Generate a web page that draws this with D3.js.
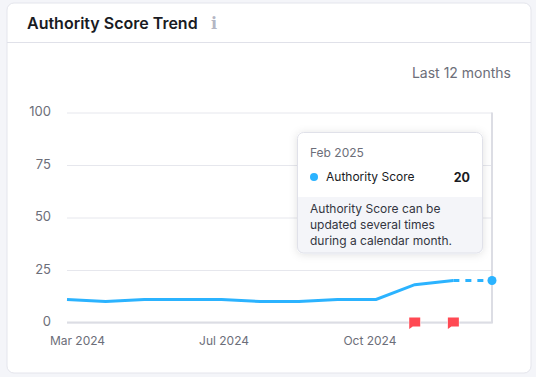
<!DOCTYPE html>
<html>
<head>
<meta charset="utf-8">
<script src="https://cdn.jsdelivr.net/npm/d3@7"></script>
<style>
  html, body {margin: 0; padding: 0; background: #f4f5f9; overflow: hidden;}
  svg {display: block; font-family: Inter, sans-serif;}
</style>
</head>
<body>
<div id="chart"></div>
<script>
const months = ["Mar 2024","Apr 2024","May 2024","Jun 2024","Jul 2024","Aug 2024","Sep 2024","Oct 2024","Nov 2024","Dec 2024","Jan 2025","Feb 2025"];
const scores = [11,10,11,11,11,10,10,11,11,18,20,20];
const yTicks = [0,25,50,75,100];
const xLabels = ["Mar 2024","Jul 2024","Oct 2024"];
const flagMonths = ["Dec 2024","Jan 2025"];
const noteLines = ["Authority Score can be","updated several times","during a calendar month."];

const width = 536, height = 377;
const margin = {top: 112.5, right: 44, bottom: 54.5, left: 67};

const svg = d3.select("#chart").append("svg")
    .attr("width", width)
    .attr("height", height);

//shadow for tooltip and card
const defs = svg.append("defs");
const shadow = defs.append("filter").attr("id", "tipShadow")
    .attr("x", "-20%").attr("y", "-20%").attr("width", "140%").attr("height", "140%");
shadow.append("feDropShadow")
    .attr("dx", 0).attr("dy", 1).attr("stdDeviation", 4)
    .attr("flood-color", "#1a1d3a").attr("flood-opacity", 0.12);
defs.append("clipPath").attr("id", "tipClip")
  .append("rect").attr("x", 297).attr("y", 132).attr("width", 186).attr("height", 121.5).attr("rx", 6);

//card
svg.append("rect")
    .attr("x", 7).attr("y", 3).attr("width", 524).attr("height", 370).attr("rx", 7)
    .attr("fill", "#fff").attr("stroke", "#e4e5ec");
svg.append("line")
    .attr("x1", 7).attr("x2", 531).attr("y1", 42.5).attr("y2", 42.5)
    .attr("stroke", "#e0e1e9");

svg.append("text")
    .attr("x", 27).attr("y", 29)
    .attr("font-size", 16).attr("font-weight", 600).attr("fill", "#191b23")
    .text("Authority Score Trend");
svg.append("text")
    .attr("x", 214).attr("y", 29)
    .attr("font-size", 16).attr("font-family", "DejaVu Serif, serif")
    .attr("font-weight", 700).attr("text-anchor", "middle").attr("fill", "#b4b6c4")
    .text("i");
svg.append("text")
    .attr("x", 511).attr("y", 78)
    .attr("font-size", 14).attr("text-anchor", "end").attr("fill", "#6c6e79")
    .text("Last 12 months");

//scales
const x = d3.scalePoint()
    .domain(months)
    .range([margin.left, width - margin.right]);
const y = d3.scaleLinear()
    .domain([0, 100])
    .range([height - margin.bottom, margin.top]);

//grid + y labels
const yAxis = svg.append("g")
    .attr("transform", `translate(${margin.left},0)`)
    .call(d3.axisLeft(y).tickValues(yTicks).tickSize(-(width - margin.left - margin.right)).tickPadding(16));
yAxis.select(".domain").remove();
yAxis.selectAll("line").attr("stroke", "#e6e7ed");
yAxis.selectAll("text")
    .attr("font-family", "Inter, sans-serif")
    .attr("font-size", 13).attr("fill", "#6c6e79").attr("dy", "0.25em");

//bottom and right axis lines
svg.append("path")
    .attr("d", `M${margin.left},${y(0)}H${x("Feb 2025")}V${y(100)}`)
    .attr("fill", "none").attr("stroke", "#dcdde4").attr("stroke-width", 2);

//x labels, they sit off their month in the original
const labelShift = {"Mar 2024": 10.5, "Jul 2024": 2.5, "Oct 2024": 32.5};
svg.selectAll(".xlabel")
    .data(xLabels)
    .join("text")
        .attr("class", "xlabel")
        .attr("x", d => x(d) + labelShift[d])
        .attr("y", y(0) + 22)
        .attr("text-anchor", "middle")
        .attr("font-size", 12).attr("fill", "#6c6e79")
        .text(d => d);

//line, last segment is dashed
const line = d3.line()
    .x(d => x(d.month))
    .y(d => y(d.score));
const points = months.map((m, i) => ({month: m, score: scores[i]}));

svg.append("path")
    .attr("d", line(points.slice(0, -1)))
    .attr("fill", "none").attr("stroke", "#2bb3ff").attr("stroke-width", 3);
svg.append("path")
    .attr("d", line(points.slice(-2)))
    .attr("fill", "none").attr("stroke", "#2bb3ff").attr("stroke-width", 3)
    .attr("stroke-dasharray", "6 6");
svg.append("circle")
    .attr("cx", x("Feb 2025")).attr("cy", y(scores[scores.length - 1])).attr("r", 4.5)
    .attr("fill", "#2bb3ff");

//red flags on the axis
svg.selectAll(".flag")
    .data(flagMonths)
    .join("path")
        .attr("class", "flag")
        .attr("transform", d => `translate(${x(d)},${y(0)})`)
        .attr("d", "M-5.5,-5H5.5V4H-2L-5.5,6.5Z")
        .attr("fill", "#ff4953")
        .attr("stroke", "#fff").attr("stroke-width", 1).attr("paint-order", "stroke");

//tooltip
const tip = svg.append("g");
tip.append("rect")
    .attr("x", 297).attr("y", 132).attr("width", 186).attr("height", 121.5).attr("rx", 6)
    .attr("fill", "#fff").attr("filter", "url(#tipShadow)");
tip.append("rect")
    .attr("x", 297).attr("y", 197).attr("width", 186).attr("height", 57)
    .attr("fill", "#f4f5f9").attr("clip-path", "url(#tipClip)");
tip.append("rect")
    .attr("x", 297.5).attr("y", 132.5).attr("width", 185).attr("height", 120.5).attr("rx", 6)
    .attr("fill", "none").attr("stroke", "#e0e1e9");
tip.append("text")
    .attr("x", 310).attr("y", 157)
    .attr("font-size", 12).attr("fill", "#6c6e79")
    .text(months[months.length - 1]);
tip.append("circle")
    .attr("cx", 314).attr("cy", 177).attr("r", 4).attr("fill", "#2bb3ff");
tip.append("text")
    .attr("x", 326).attr("y", 181)
    .attr("font-size", 12).attr("fill", "#191b23")
    .text("Authority Score");
tip.append("text")
    .attr("x", 470).attr("y", 181.5)
    .attr("text-anchor", "end")
    .attr("font-size", 12.5).attr("font-weight", 700).attr("fill", "#191b23")
    .text(scores[scores.length - 1]);
tip.selectAll(".note")
    .data(noteLines)
    .join("text")
        .attr("class", "note")
        .attr("x", 310)
        .attr("y", (d, i) => 213 + i * 16)
        .attr("font-size", 12).attr("fill", "#333541")
        .text(d => d);
</script>
</body>
</html>
